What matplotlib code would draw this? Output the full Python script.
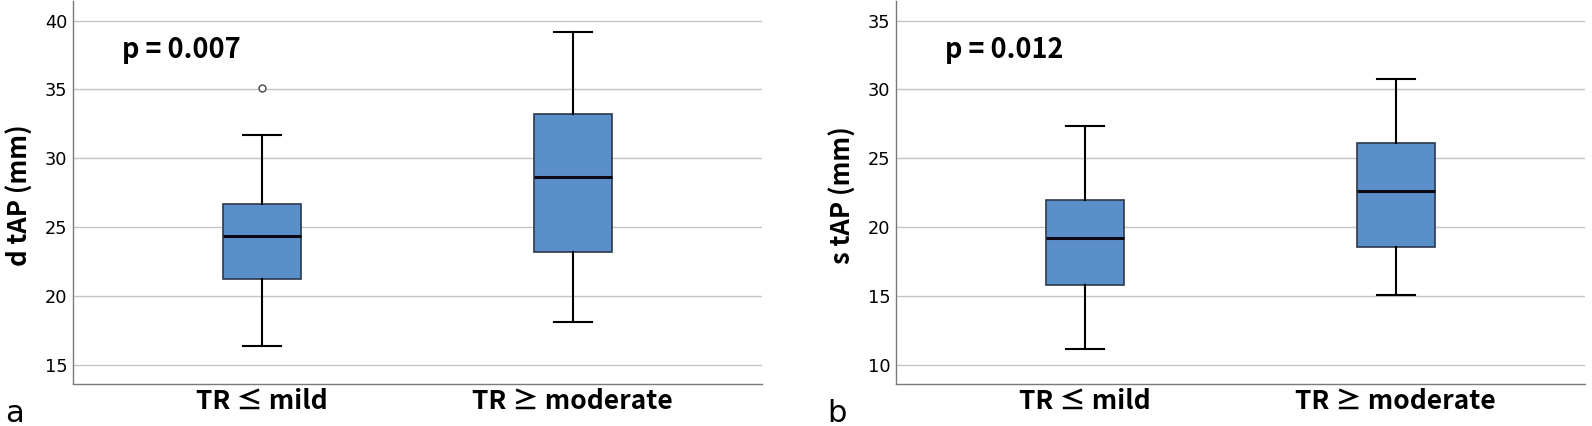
import matplotlib
matplotlib.use("Agg")
import matplotlib.pyplot as plt

plt.rcParams['font.family'] = ['Noto Sans CJK JP', 'DejaVu Sans']

categories = ["TR ≤ mild", "TR ≥ moderate"]

# Panel a: d tAP (mm)
a_whislo = [16.35, 18.07]
a_q1 = [21.25, 23.16]
a_med = [24.35, 28.67]
a_q3 = [26.68, 33.19]
a_whishi = [31.68, 39.2]
a_fliers = [[35.1], []]
a_p = "p = 0.007"
a_ylabel = "d tAP (mm)"
a_ticks = [15, 20, 25, 30, 35, 40]

# Panel b: s tAP (mm)
b_whislo = [11.16, 15.09]
b_q1 = [15.79, 18.58]
b_med = [19.18, 22.63]
b_q3 = [22.0, 26.12]
b_whishi = [27.36, 30.78]
b_fliers = [[], []]
b_p = "p = 0.012"
b_ylabel = "s tAP (mm)"
b_ticks = [10, 15, 20, 25, 30, 35]

W, H = 1592, 426
fig = plt.figure(figsize=(W / 100, H / 100), dpi=100)

box_color = "#5B8FC9"
edge_color = "#2B3A4A"


def panel(left_px, whislo, q1, med, q3, whishi, fliers, ylim, ticks, ylabel, ptext, letter, letter_x):
    ax = fig.add_axes([left_px / W, 1 - 384 / H, 689.5 / W, 383 / H])
    stats = []
    for i in range(len(categories)):
        stats.append(dict(med=med[i], q1=q1[i], q3=q3[i], whislo=whislo[i],
                          whishi=whishi[i], fliers=fliers[i], label=categories[i]))
    ax.bxp(stats, positions=[1, 2], widths=0.252, capwidths=0.123, patch_artist=True,
           boxprops=dict(facecolor=box_color, edgecolor=edge_color, linewidth=1.2),
           medianprops=dict(color="#0a0a14", linewidth=2.2),
           whiskerprops=dict(color="black", linewidth=1.5),
           capprops=dict(color="black", linewidth=1.5),
           flierprops=dict(marker="o", markersize=5, markerfacecolor="white",
                           markeredgecolor="#444444", markeredgewidth=1.0),
           zorder=3)
    ax.set_xlim(0.39, 2.61)
    ax.set_ylim(*ylim)
    ax.set_yticks(ticks)
    ax.set_yticklabels([str(t) for t in ticks], fontsize=12.8, family="DejaVu Sans")
    ax.set_xticks([1, 2])
    ax.set_xticklabels(categories, fontsize=19, fontweight="bold")
    ax.tick_params(axis="both", length=0)
    ax.tick_params(axis="y", pad=4)
    ax.tick_params(axis="x", pad=3)
    ax.grid(axis="y", color="#c4c4c4", linewidth=1.0, zorder=0)
    ax.set_axisbelow(True)
    for s in ("top", "right"):
        ax.spines[s].set_visible(False)
    for s in ("left", "bottom"):
        ax.spines[s].set_color("#7a7a7a")
        ax.spines[s].set_linewidth(1.0)
    ax.set_ylabel(ylabel, fontsize=18.5, fontweight="bold", va="center")
    ax.yaxis.set_label_coords(-0.0765, 0.493)
    ax.text(0.071, 0.872, ptext, transform=ax.transAxes, fontsize=19.5,
            fontweight="bold", va="center", ha="left")
    fig.text(letter_x / W, 1 - 422 / H, letter, fontsize=22, ha="left",
             va="baseline", family="DejaVu Sans")
    return ax


panel(72.7, a_whislo, a_q1, a_med, a_q3, a_whishi, a_fliers,
      (13.6, 41.43), a_ticks, a_ylabel, a_p, "a", 5)
panel(895.7, b_whislo, b_q1, b_med, b_q3, b_whishi, b_fliers,
      (8.6, 36.43), b_ticks, b_ylabel, b_p, "b", 827)

fig.savefig("out.png", dpi=100)
